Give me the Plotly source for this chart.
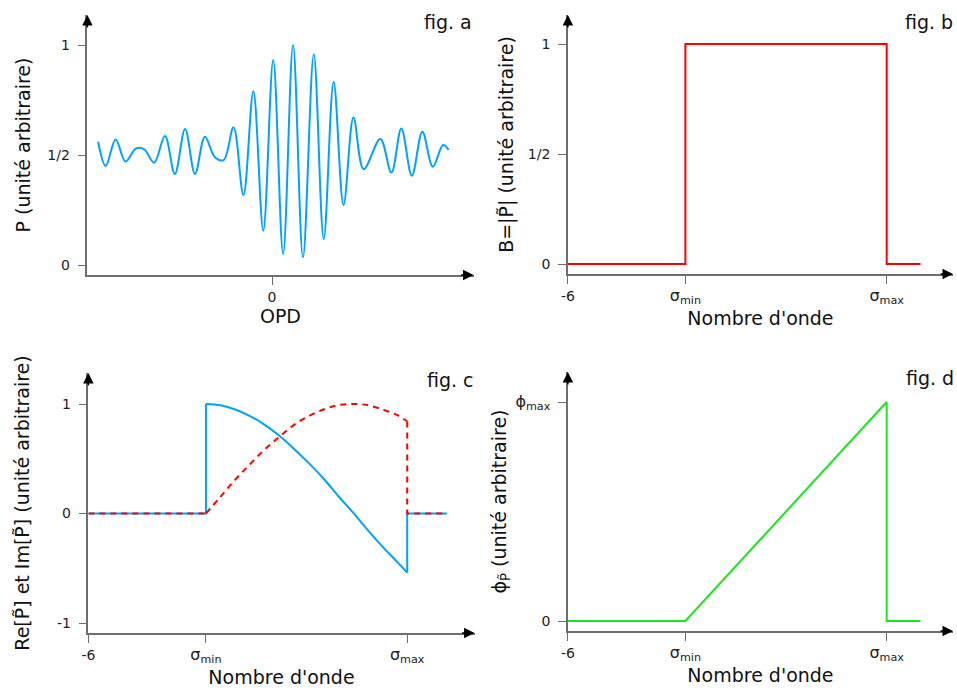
import plotly.graph_objects as go

# ---------------- data ----------------
# fig. a : interferogram
opd = [-5.96, -5.70, -5.36, -5.02, -4.66, -4.38, -4.04, -3.67, -3.33, -2.98,
       -2.64, -2.30, -1.96, -1.66, -1.32, -0.98, -0.64, -0.30, 0.04, 0.38,
       0.72, 1.06, 1.43, 1.77, 2.11, 2.45, 2.79, 3.14, 3.71, 4.09,
       4.43, 4.79, 5.15, 5.51, 5.86, 6.05]
power = [0.56, 0.45, 0.571, 0.47, 0.53, 0.526, 0.465, 0.586, 0.414, 0.618,
         0.414, 0.583, 0.49, 0.477, 0.626, 0.318, 0.79, 0.156, 0.932, 0.05,
         1.0, 0.035, 0.958, 0.118, 0.833, 0.273, 0.67, 0.435, 0.573, 0.42,
         0.62, 0.406, 0.606, 0.447, 0.545, 0.523]

# wavenumber ticks
sigma_min = -2.0
sigma_max = 4.85
wn_start = -6.0
wn_end = 6.0
wn_end_c = 6.2

# fig. b : modulus (box spectrum)
b_x = [wn_start, sigma_min, sigma_min, sigma_max, sigma_max, wn_end]
b_y = [0, 0, 1, 1, 0, 0]

# fig. c : real and imaginary parts inside the band
c_band_x = [-2.0, -1.5, -1.0, -0.5, 0.0, 0.5, 1.0, 1.5, 2.0, 2.5, 3.0, 3.5, 4.0, 4.5, 4.85]
c_real = [1.00, 0.988, 0.95, 0.89, 0.81, 0.71, 0.59, 0.46, 0.32, 0.16, 0.01, -0.15, -0.30, -0.44, -0.54]
c_imag = [0.00, 0.155, 0.31, 0.45, 0.585, 0.70, 0.81, 0.89, 0.95, 0.99, 1.00, 0.99, 0.95, 0.90, 0.84]

# straight pieces outside the band (steps)
re_step_x = [wn_start, sigma_min, sigma_min, None, sigma_max, sigma_max, wn_end_c]
re_step_y = [0, 0, c_real[0], None, c_real[-1], 0, 0]
im_step_x = [wn_start, sigma_min, None, sigma_max, sigma_max, wn_end_c]
im_step_y = [0, 0, None, c_imag[-1], 0, 0]

# fig. d : phase
d_x = [wn_start, sigma_min, sigma_max, sigma_max, wn_end]
d_y = [0, 0, 1, 0, 0]

# tick labels
a_yticks = [0, 0.5, 1]
a_yticktext = ["0", "1/2", "1"]
a_xticks = [0]
a_xticktext = ["0"]
wn_ticks = [wn_start, sigma_min, sigma_max]
wn_ticktext = ["-6",
               '<span style="font-size:16px">σ<sub>min</sub></span>',
               '<span style="font-size:16px">σ<sub>max</sub></span>']
c_yticks = [-1, 0, 1]
c_yticktext = ["-1", "0", "1"]
d_yticks = [0, 1]
d_yticktext = ["0", '<span style="font-size:16px">ϕ<sub>max</sub></span>']

# ---------------- style ----------------
BLUE = "#00a2ff"
RED = "#ff0000"
GREEN = "#1ee51e"
AXC = "#6e6e6e"
FONT = "DejaVu Sans"
W, H = 957, 691


def px_x(p):
    return p / W


def px_y(p):
    return 1 - p / H


fig = go.Figure()
fig.add_trace(go.Scatter(x=opd, y=power, mode="lines", line=dict(color=BLUE, width=2, shape="spline", smoothing=1.0),
                         xaxis="x", yaxis="y", showlegend=False, hoverinfo="skip"))
fig.add_trace(go.Scatter(x=b_x, y=b_y, mode="lines", line=dict(color=RED, width=2),
                         xaxis="x2", yaxis="y2", showlegend=False))
# fig c: real part (solid blue)
fig.add_trace(go.Scatter(x=re_step_x, y=re_step_y, mode="lines", line=dict(color=BLUE, width=2),
                         xaxis="x3", yaxis="y3", showlegend=False, connectgaps=False))
fig.add_trace(go.Scatter(x=c_band_x, y=c_real, mode="lines", line=dict(color=BLUE, width=2, shape="spline", smoothing=1.0),
                         xaxis="x3", yaxis="y3", showlegend=False))
# fig c: imaginary part (dashed red)
fig.add_trace(go.Scatter(x=im_step_x, y=im_step_y, mode="lines", line=dict(color=RED, width=2, dash="6px,5px"),
                         xaxis="x3", yaxis="y3", showlegend=False, connectgaps=False))
fig.add_trace(go.Scatter(x=c_band_x, y=c_imag, mode="lines", line=dict(color=RED, width=2, dash="6px,5px", shape="spline", smoothing=1.0),
                         xaxis="x3", yaxis="y3", showlegend=False))
fig.add_trace(go.Scatter(x=d_x, y=d_y, mode="lines", line=dict(color=GREEN, width=2),
                         xaxis="x4", yaxis="y4", showlegend=False))


def xax(domain, rng, anchor, tv, tt, title):
    return dict(domain=domain, range=rng, anchor=anchor, showline=True, linecolor=AXC, linewidth=1.5,
                showgrid=False, zeroline=False, ticks="outside", ticklen=8, tickcolor=AXC, tickwidth=1,
                tickvals=tv, ticktext=tt, tickfont=dict(family=FONT, size=14, color="#222"),
                title=dict(text=title, font=dict(family=FONT, size=19, color="#111"), standoff=4),
                fixedrange=True)


def yax(domain, rng, anchor, tv, tt, title, standoff):
    return dict(domain=domain, range=rng, anchor=anchor, showline=True, linecolor=AXC, linewidth=1.5,
                showgrid=False, zeroline=False, ticks="outside", ticklen=8, tickcolor=AXC, tickwidth=1,
                ticklabelstandoff=5,
                tickvals=tv, ticktext=tt, tickfont=dict(family=FONT, size=14, color="#222"),
                title=dict(text=title, font=dict(family=FONT, size=19, color="#111"), standoff=standoff),
                fixedrange=True)


fig.update_layout(
    width=W, height=H, margin=dict(l=0, r=0, t=0, b=0),
    paper_bgcolor="white", plot_bgcolor="white",
    font=dict(family=FONT),
    xaxis=xax([px_x(81), px_x(470)], [(81 - 267) / 29.4, (470 - 267) / 29.4], "y", a_xticks, a_xticktext, "OPD"),
    yaxis=yax([px_y(275), px_y(15)], [-10 / 220, 1 + 30 / 220], "x", a_yticks, a_yticktext, "P (unité arbitraire)", 12),
    xaxis2=xax([px_x(565), px_x(953)], [-6, -6 + 388 / 29.6], "y2", wn_ticks, wn_ticktext, "Nombre d'onde"),
    yaxis2=yax([px_y(274), px_y(15)], [-10 / 220, 1 + 29 / 220], "x2", a_yticks, a_yticktext, "B=|P\u0303| (unité arbitraire)", 9),
    xaxis3=xax([px_x(82), px_x(471)], [-6, -6 + 389 / 29.6], "y3", wn_ticks, wn_ticktext, "Nombre d'onde"),
    yaxis3=yax([px_y(633), px_y(373)], [-1 - 10 / 109.5, 1 + 31 / 109.5], "x3", c_yticks, c_yticktext, "Re[P\u0303] et Im[P\u0303] (unité arbitraire)", 22),
    xaxis4=xax([px_x(565), px_x(953)], [-6, -6 + 388 / 29.6], "y4", wn_ticks, wn_ticktext, "Nombre d'onde"),
    yaxis4=yax([px_y(631), px_y(372)], [-10 / 219, 1 + 30 / 219], "x4", d_yticks, d_yticktext, "ϕ<sub>P\u0303</sub> (unité arbitraire)", 4),
)

annotations = []
for i in ["", "2", "3", "4"]:
    # arrow on y axis (top)
    annotations.append(dict(x=0, y=1, xref=f"x{i} domain", yref=f"y{i} domain", text="", showarrow=True,
                            ax=0, ay=14, axref="pixel", ayref="pixel", arrowhead=2, arrowsize=1.4,
                            arrowwidth=1.5, arrowcolor="black"))
    # arrow on x axis (right)
    annotations.append(dict(x=1, y=0, xref=f"x{i} domain", yref=f"y{i} domain", text="", showarrow=True,
                            ax=-14, ay=0, axref="pixel", ayref="pixel", arrowhead=2, arrowsize=1.4,
                            arrowwidth=1.5, arrowcolor="black"))

labels = [("fig. a", 470, 22), ("fig. b", 955, 22), ("fig. c", 472, 380), ("fig. d", 956, 378)]
for txt, xr, yc in labels:
    annotations.append(dict(text=txt, x=px_x(xr), y=px_y(yc), xref="paper", yref="paper", xanchor="right",
                            yanchor="middle", showarrow=False, font=dict(family=FONT, size=19, color="#111")))
fig.update_layout(annotations=annotations)

fig.write_html("out.html", config={"displayModeBar": False},
               post_script="document.body.style.margin='0';document.body.style.overflow='hidden';")
